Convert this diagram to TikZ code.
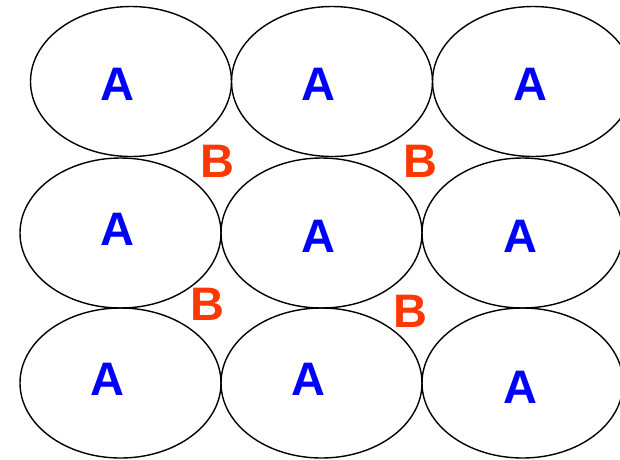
\documentclass[tikz,border=0pt]{standalone}
\usepackage{fontspec}
\setmainfont{Liberation Sans}
\usepackage{tikz}
\usetikzlibrary{positioning, shapes.geometric}
\definecolor{bfarbe}{RGB}{255,55,0}
\tikzstyle{oval} = [ellipse, draw=black, line width=1.4pt, minimum width=201pt, minimum height=150pt, inner sep=0pt, outer sep=0pt]
\tikzstyle{abuch} = [text=blue, font=\fontsize{47}{47}\selectfont\bfseries, inner sep=0pt]
\tikzstyle{bbuch} = [text=bfarbe, font=\fontsize{47}{47}\selectfont\bfseries, inner sep=0pt]

\begin{document}
\begin{tikzpicture}[x=1pt, y=-1pt]
    	\useasboundingbox (0,0) rectangle (620,459);
    	\clip (0,0) rectangle (620,459);
    	
    	\node [oval] (11) at (131,81.5) {};
    	\node [oval, right=0pt of 11] (12) {};
    	\node [oval, right=0pt of 12] (13) {};
    	
    	\node [oval] (21) at (120.5,233) {};
    	\node [oval, right=0pt of 21] (22) {};
    	\node [oval, right=0pt of 22] (23) {};
    	
    	\node [oval] (31) at (120.5,383) {};
    	\node [oval, right=0pt of 31] (32) {};
    	\node [oval, right=0pt of 32] (33) {};
    	
    	\node [abuch] (a11) at (117,84) {A};
    	\node [abuch] (a12) at (318,84) {A};
    	\node [abuch] (a13) at (530,84) {A};
    	\node [abuch] (a21) at (117,229) {A};
    	\node [abuch] (a22) at (318,236) {A};
    	\node [abuch] (a23) at (520,236) {A};
    	\node [abuch] (a31) at (107,379) {A};
    	\node [abuch] (a32) at (308,379) {A};
    	\node [abuch] (a33) at (520,387) {A};
    	
    	\node [bbuch] (b1) at (217,161) {B};
    	\node [bbuch] (b2) at (420,161) {B};
    	\node [bbuch] (b3) at (207,304) {B};
    	\node [bbuch] (b4) at (410,311) {B};
    	
\end{tikzpicture}
\end{document}
